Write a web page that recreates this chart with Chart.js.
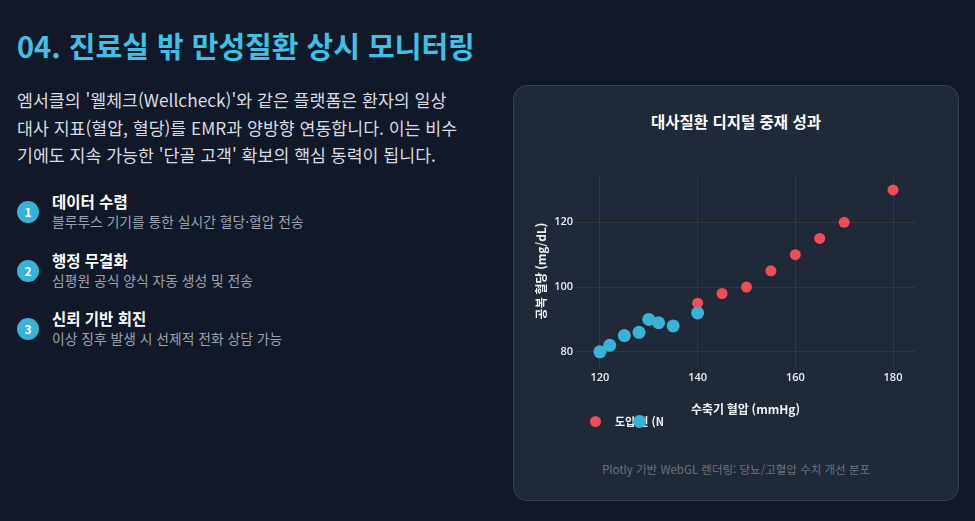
<!DOCTYPE html>
<html lang="ko">
<head>
<meta charset="utf-8">
<script src="https://cdn.jsdelivr.net/npm/chart.js@4.4.1/dist/chart.umd.min.js"></script>
<style>
  html, body {
    margin: 0;
    padding: 0;
    width: 975px;
    height: 521px;
    overflow: hidden;
    background: #111827;
    font-family: "Noto Sans CJK KR", "Noto Sans", sans-serif;
  }
  .title {
    position: absolute;
    left: 17px;
    top: 25px;
    font-size: 29px;
    font-weight: bold;
    color: #3fc0e4;
    line-height: 40px;
    white-space: nowrap;
  }
  .lead {
    position: absolute;
    left: 17px;
    top: 86px;
    font-size: 17.3px;
    line-height: 27.5px;
    color: #d8dce2;
    white-space: nowrap;
  }
  .item {
    position: absolute;
    left: 17px;
    height: 40px;
  }
  .item .num {
    position: absolute;
    left: 0;
    top: 10px;
    width: 22px;
    height: 22px;
    border-radius: 50%;
    background: #38b2d6;
    color: #fff;
    font-size: 12px;
    font-weight: bold;
    line-height: 22px;
    text-align: center;
  }
  .item .head {
    position: absolute;
    left: 35px;
    top: 0;
    font-size: 15.5px;
    font-weight: bold;
    color: #fff;
    white-space: nowrap;
    line-height: 20px;
  }
  .item .sub {
    position: absolute;
    left: 35px;
    top: 21px;
    font-size: 13.8px;
    color: #9ca3af;
    white-space: nowrap;
    line-height: 19px;
  }
  .card {
    position: absolute;
    left: 513px;
    top: 85px;
    width: 444px;
    height: 414px;
    background: #1f2937;
    border: 1px solid #374151;
    border-radius: 14px;
  }
  .chart-title {
    position: absolute;
    left: 513px;
    top: 110px;
    width: 446px;
    text-align: center;
    font-size: 15.5px;
    font-weight: bold;
    color: #fff;
    line-height: 22px;
  }
  #chartBox {
    position: absolute;
    left: 513px;
    top: 85px;
    width: 446px;
    height: 340px;
  }
  .legend {
    position: absolute;
    left: 590px;
    top: 414px;
    height: 14px;
    font-size: 11px;
    font-weight: bold;
    color: #f3f4f6;
  }
  .legend .dot {
    position: absolute;
    border-radius: 50%;
  }
  .legend .lbl {
    position: absolute;
    top: 0;
    line-height: 14px;
    overflow: hidden;
    white-space: nowrap;
  }
  .footer {
    position: absolute;
    left: 513px;
    top: 460px;
    width: 446px;
    text-align: center;
    font-size: 11.5px;
    color: #6b7280;
    line-height: 18px;
  }
</style>
</head>
<body>
<div class="title">04. 진료실 밖 만성질환 상시 모니터링</div>
<div class="lead">
  엠서클의 '웰체크(Wellcheck)'와 같은 플랫폼은 환자의 일상<br>
  대사 지표(혈압, 혈당)를 EMR과 양방향 연동합니다. 이는 비수<br>
  기에도 지속 가능한 '단골 고객' 확보의 핵심 동력이 됩니다.
</div>

<div class="item" style="top:191px">
  <div class="num">1</div>
  <div class="head">데이터 수렴</div>
  <div class="sub">블루투스 기기를 통한 실시간 혈당·혈압 전송</div>
</div>
<div class="item" style="top:250px">
  <div class="num">2</div>
  <div class="head">행정 무결화</div>
  <div class="sub">심평원 공식 양식 자동 생성 및 전송</div>
</div>
<div class="item" style="top:308px">
  <div class="num">3</div>
  <div class="head">신뢰 기반 회진</div>
  <div class="sub">이상 징후 발생 시 선제적 전화 상담 가능</div>
</div>

<div class="card"></div>
<div class="chart-title">대사질환 디지털 중재 성과</div>
<div id="chartBox"><canvas id="bpChart"></canvas></div>
<div class="legend" id="legend"></div>
<div class="footer">Plotly 기반 WebGL 렌더링: 당뇨/고혈압 수치 개선 분포</div>

<script>
// before / after digital intervention (systolic BP vs fasting glucose)
const beforeLabel = '도입 전 (Non-Digital)';
const afterLabel = '도입 후 (Digital)';
const beforeBp = [140, 145, 150, 155, 160, 165, 170, 180];
const beforeGlucose = [95, 98, 100, 105, 110, 115, 120, 130];
const afterBp = [120, 122, 125, 128, 130, 132, 135, 140];
const afterGlucose = [80, 82, 85, 86, 90, 89, 88, 92];
const xTicks = [120, 140, 160, 180];
const yTicks = [80, 100, 120];

const redColor = '#ef4e55';
const blueColor = '#38b2d6';
const gridColor = '#35383b';
const tickColor = '#eceef1';

function toPoints(xs, ys) {
    return xs.map((x, i) => ({ x: x, y: ys[i] }));
}

const ctx = document.getElementById('bpChart').getContext('2d');
const bpChart = new Chart(ctx, {
    type: 'scatter',
    data: {
        datasets: [
            {
                label: beforeLabel,
                data: toPoints(beforeBp, beforeGlucose),
                backgroundColor: redColor,
                borderWidth: 0,
                pointRadius: 5.5,
                order: 1
            },
            {
                label: afterLabel,
                data: toPoints(afterBp, afterGlucose),
                backgroundColor: blueColor,
                borderWidth: 0,
                pointRadius: 6.5,
                order: 0
            }
        ]
    },
    options: {
        responsive: true,
        maintainAspectRatio: false,
        animation: false,
        layout: {
            padding: { top: 90, left: 20, right: 44, bottom: 0 }
        },
        plugins: {
            legend: { display: false },
            tooltip: { enabled: false }
        },
        scales: {
            x: {
                type: 'linear',
                min: 115.1,
                max: 184.5,
                border: { display: false },
                grid: { color: gridColor, drawTicks: false },
                afterBuildTicks: function(scale) {
                    scale.ticks = xTicks.map(v => ({ value: v }));
                },
                afterFit: function(scale) {
                    scale.height = 58;
                },
                ticks: {
                    color: tickColor,
                    padding: 4,
                    font: { family: 'Open Sans, Noto Sans CJK KR', size: 11, weight: '600' }
                },
                title: {
                    display: true,
                    text: '수축기 혈압 (mmHg)',
                    color: '#f3f4f6',
                    padding: { top: 0, bottom: 8 },
                    font: { family: 'Noto Sans CJK KR', size: 12, weight: 'bold' }
                }
            },
            y: {
                type: 'linear',
                min: 75.3,
                max: 134.6,
                border: { display: false },
                grid: { color: gridColor, drawTicks: false },
                afterBuildTicks: function(scale) {
                    scale.ticks = yTicks.map(v => ({ value: v }));
                },
                afterFit: function(scale) {
                    scale.width = 43;
                },
                ticks: {
                    color: tickColor,
                    padding: 3,
                    font: { family: 'Open Sans, Noto Sans CJK KR', size: 11, weight: '600' }
                },
                title: {
                    display: true,
                    text: '공복 혈당 (mg/dL)',
                    color: '#f3f4f6',
                    padding: { top: 1, bottom: 0 },
                    font: { family: 'Noto Sans CJK KR', size: 12, weight: 'bold' }
                }
            }
        }
    }
});

// legend drawn in HTML, squeezed like the original (second marker overlaps the first label)
const legendEl = document.getElementById('legend');
const sets = bpChart.data.datasets;
const legendSlots = [
    { dotLeft: 0, dotSize: 11, textLeft: 25, textWidth: 48 },
    { dotLeft: 42.5, dotSize: 13, textLeft: 60, textWidth: 0 }
];
sets.forEach((ds, i) => {
    const slot = legendSlots[i];
    const dot = document.createElement('span');
    dot.className = 'dot';
    dot.style.left = slot.dotLeft + 'px';
    dot.style.top = (7 - slot.dotSize / 2) + 'px';
    dot.style.width = slot.dotSize + 'px';
    dot.style.height = slot.dotSize + 'px';
    dot.style.background = ds.backgroundColor;
    const lbl = document.createElement('span');
    lbl.className = 'lbl';
    lbl.style.left = slot.textLeft + 'px';
    lbl.style.width = slot.textWidth + 'px';
    lbl.textContent = ds.label;
    legendEl.appendChild(lbl);
    legendEl.appendChild(dot);
});
</script>
</body>
</html>
